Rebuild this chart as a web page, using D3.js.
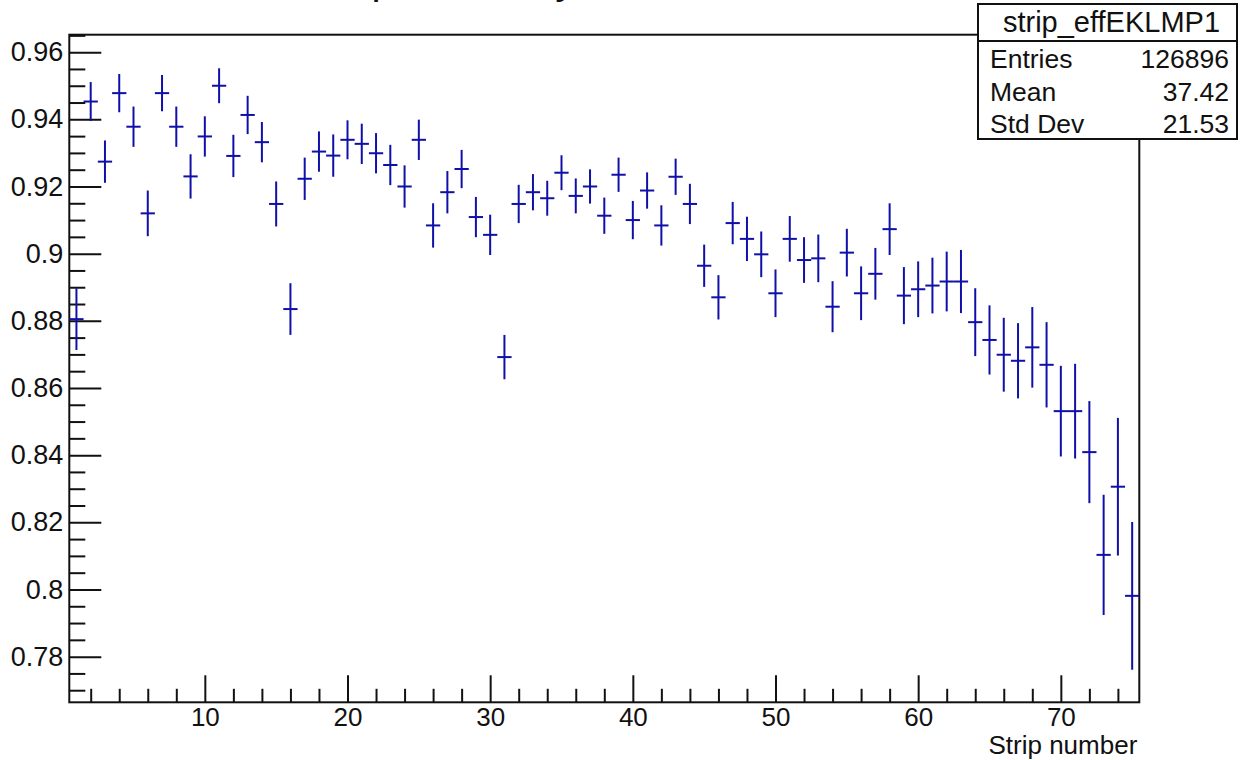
<!DOCTYPE html>
<html>
<head>
<meta charset="utf-8">
<script src="https://cdn.jsdelivr.net/npm/d3@7"></script>
<style>
  html, body { margin: 0; padding: 0; background: #fff; }
  svg { display: block; font-family: "Liberation Sans", Arial, Helvetica, sans-serif; }
</style>
</head>
<body>
<svg id="chart" width="1240" height="760"></svg>
<script>
// ---- data ----
const strips = d3.range(1, 76);
const efficiency = [
  0.8805, 0.9453, 0.9274, 0.9478, 0.9378, 0.9120, 0.9478, 0.9378, 0.9230, 0.9349,
  0.9500, 0.9291, 0.9413, 0.9332, 0.9148, 0.8835, 0.9223, 0.9304, 0.9292, 0.9339,
  0.9327, 0.9299, 0.9264, 0.9200, 0.9339, 0.9084, 0.9183, 0.9252, 0.9109, 0.9056,
  0.8692, 0.9148, 0.9183, 0.9165, 0.9241, 0.9172, 0.9200, 0.9113, 0.9235, 0.9100,
  0.9188, 0.9084, 0.9229, 0.9148, 0.8964, 0.8870, 0.9091, 0.9044, 0.8998, 0.8882,
  0.9044, 0.8981, 0.8986, 0.8842, 0.9003, 0.8882, 0.8940, 0.9073, 0.8875, 0.8894,
  0.8905, 0.8917, 0.8917, 0.8796, 0.8743, 0.8699, 0.8681, 0.8721, 0.8669, 0.8531,
  0.8531, 0.8409, 0.8103, 0.8306, 0.7981
];
const errors = [
  0.0092, 0.0058, 0.0063, 0.0057, 0.0060, 0.0068, 0.0054, 0.0060, 0.0066, 0.0060,
  0.0052, 0.0063, 0.0057, 0.0060, 0.0067, 0.0077, 0.0063, 0.0060, 0.0063, 0.0058,
  0.0060, 0.0060, 0.0060, 0.0063, 0.0060, 0.0066, 0.0063, 0.0057, 0.0060, 0.0060,
  0.0066, 0.0057, 0.0054, 0.0052, 0.0052, 0.0052, 0.0051, 0.0054, 0.0051, 0.0057,
  0.0054, 0.0060, 0.0054, 0.0060, 0.0063, 0.0066, 0.0063, 0.0066, 0.0068, 0.0071,
  0.0068, 0.0068, 0.0071, 0.0076, 0.0071, 0.0080, 0.0077, 0.0077, 0.0085, 0.0083,
  0.0083, 0.0089, 0.0094, 0.0101, 0.0103, 0.0110, 0.0112, 0.0120, 0.0127, 0.0135,
  0.0141, 0.0152, 0.0179, 0.0205, 0.0220
];
const xMajorTicks = [10, 20, 30, 40, 50, 60, 70];
const xMinorTicks = d3.range(2, 76, 2).filter(v => v % 10 !== 0);
const yMajorTicks = [0.78, 0.80, 0.82, 0.84, 0.86, 0.88, 0.90, 0.92, 0.94, 0.96];
const yMinorTicks = d3.range(0, 40).map(i => +(0.77 + i * 0.005).toFixed(3))
  .filter(v => v < 0.9652 && !yMajorTicks.some(m => Math.abs(m - v) < 1e-6));
const xTitle = "Strip number";
const plotTitle = "Strip efficiency";
const statsTitle = "strip_effEKLMP1";
const statsNames = ["Entries", "Mean", "Std Dev"];
const statsValues = ["126896", "37.42", "21.53"];

// ---- layout ----
const svg = d3.select("#chart");
const L = 69.3, R = 1139.3, T = 34.7, B = 702.3;
const x = d3.scaleLinear().domain([0.5, 75.5]).range([L, R]);
const y = d3.scaleLinear().domain([0.7664, 0.9652]).range([B, T]);
const ink = "#111";
const blue = "#1010a8";
const fontTick = 27;

// title: only the lowest part of its descenders is inside the picture, as in the reference
svg.append("text")
  .attr("x", 310).attr("y", -6.5)
  .attr("font-size", 41).attr("fill", ink)
  .text(plotTitle);

// frame
svg.append("rect")
  .attr("x", L).attr("y", T).attr("width", R - L).attr("height", B - T)
  .attr("fill", "none").attr("stroke", ink).attr("stroke-width", 2);

function styleAxis(g) {
  g.select(".domain").remove();
  g.selectAll(".tick line").attr("stroke", ink).attr("stroke-width", 2);
}

// y ticks (inward)
svg.append("g").attr("transform", `translate(${L},0)`)
  .call(d3.axisRight(y).tickValues(yMajorTicks).tickSize(32).tickFormat(""))
  .call(styleAxis);
svg.append("g").attr("transform", `translate(${L},0)`)
  .call(d3.axisRight(y).tickValues(yMinorTicks).tickSize(16).tickFormat(""))
  .call(styleAxis);
// y labels
const yLab = svg.append("g").attr("transform", `translate(${L},0)`)
  .call(d3.axisLeft(y).tickValues(yMajorTicks).tickSize(0).tickPadding(6).tickFormat(d3.format("~g")));
yLab.select(".domain").remove();
yLab.selectAll("text").attr("font-size", fontTick).attr("fill", ink)
  .attr("font-family", "Liberation Sans, Arial, sans-serif");

// x ticks (inward)
svg.append("g").attr("transform", `translate(0,${B})`)
  .call(d3.axisTop(x).tickValues(xMajorTicks).tickSize(27).tickFormat(""))
  .call(styleAxis);
svg.append("g").attr("transform", `translate(0,${B})`)
  .call(d3.axisTop(x).tickValues(xMinorTicks).tickSize(13.5).tickFormat(""))
  .call(styleAxis);
const xLab = svg.append("g").attr("transform", `translate(0,${B})`)
  .call(d3.axisBottom(x).tickValues(xMajorTicks).tickSize(0).tickPadding(5).tickFormat(d3.format("d")));
xLab.select(".domain").remove();
xLab.selectAll("text").attr("font-size", 26).attr("fill", ink)
  .attr("font-family", "Liberation Sans, Arial, sans-serif");

// x title
svg.append("text")
  .attr("x", R - 2).attr("y", 753.5)
  .attr("text-anchor", "end").attr("font-size", 26).attr("fill", ink)
  .text(xTitle);

// data: error crosses
const pts = strips.map((s, i) => ({ s, v: efficiency[i], e: errors[i] }));
const g = svg.append("g").attr("stroke", blue).attr("stroke-width", 2);
g.selectAll("line.v").data(pts).join("line").attr("class", "v")
  .attr("x1", d => x(d.s)).attr("x2", d => x(d.s))
  .attr("y1", d => y(Math.min(d.v + d.e, 0.9652))).attr("y2", d => y(d.v - d.e));
g.selectAll("line.h").data(pts).join("line").attr("class", "h")
  .attr("x1", d => x(d.s - 0.5)).attr("x2", d => x(d.s + 0.5))
  .attr("y1", d => y(d.v)).attr("y2", d => y(d.v));

// stats box
const bx = 978, by = 4, bw = 259, bh = 135, sep = 41;
const sb = svg.append("g");
sb.append("rect").attr("x", bx).attr("y", by).attr("width", bw).attr("height", bh)
  .attr("fill", "#fff").attr("stroke", ink).attr("stroke-width", 2);
sb.append("line").attr("x1", bx).attr("x2", bx + bw).attr("y1", sep).attr("y2", sep)
  .attr("stroke", ink).attr("stroke-width", 2);
sb.append("text").attr("x", bx + bw / 2 + 4).attr("y", 32).attr("text-anchor", "middle")
  .attr("font-size", 29).attr("fill", ink).text(statsTitle);
const rowY = [68, 101, 133];
statsNames.forEach((n, i) => {
  sb.append("text").attr("x", bx + 12).attr("y", rowY[i]).attr("font-size", 26.5)
    .attr("fill", ink).text(n);
  sb.append("text").attr("x", bx + bw - 8).attr("y", rowY[i]).attr("text-anchor", "end")
    .attr("font-size", 26.5).attr("fill", ink).text(statsValues[i]);
});
</script>
</body>
</html>
